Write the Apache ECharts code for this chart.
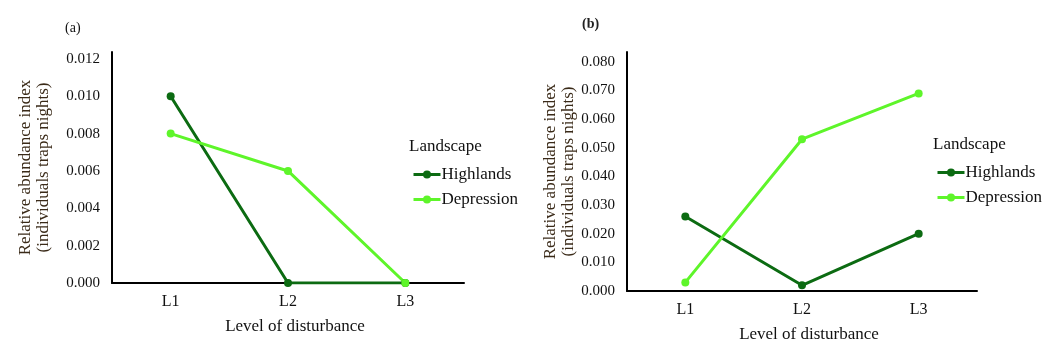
<!DOCTYPE html>
<html>
<head>
<meta charset="utf-8">
<script src="https://cdn.jsdelivr.net/npm/echarts@6/dist/echarts.min.js"></script>
<style>
  html, body { margin: 0; padding: 0; background: #fff; }
  #main { width: 1063px; height: 348px; }
</style>
</head>
<body>
<div id="main"></div>
<script>
  // 数据
  const categories = ['L1', 'L2', 'L3'];
  const highlandsA = [0.010, 0.000, 0.000];
  const depressionA = [0.008, 0.006, 0.000];
  const highlandsB = [0.026, 0.002, 0.020];
  const depressionB = [0.003, 0.053, 0.069];

  const darkGreen = '#0c6b12';
  const lightGreen = '#5ef52a';
  const font = 'Liberation Serif';

  let myChart = echarts.init(document.getElementById('main'));

  function lineSeries(name, data, color, idx) {
    return {
      name: name,
      type: 'line',
      xAxisIndex: idx,
      yAxisIndex: idx,
      data: data,
      symbol: 'circle',
      symbolSize: 8,
      itemStyle: { color: color },
      lineStyle: { color: color, width: 3 },
      emphasis: { disabled: true }
    };
  }

  function xAxis(idx) {
    return {
      type: 'category',
      gridIndex: idx,
      data: categories,
      boundaryGap: true,
      axisLine: { lineStyle: { color: '#000', width: 2 } },
      axisTick: { show: false },
      axisLabel: { color: '#111', fontFamily: font, fontSize: 16, margin: 11 },
      name: 'Level of disturbance',
      nameLocation: 'middle',
      nameGap: 35,
      nameTextStyle: { color: '#111', fontFamily: font, fontSize: 17, padding: [0, 0, 0, 14] }
    };
  }

  function yAxis(idx, max, interval, gap) {
    return {
      type: 'value',
      gridIndex: idx,
      min: 0,
      max: max,
      interval: interval,
      axisLine: { show: true, lineStyle: { color: '#000', width: 2 } },
      axisTick: { show: false },
      splitLine: { show: false },
      axisLabel: {
        color: '#111', fontFamily: font, fontSize: 15, margin: 12,
        showMaxLabel: false,
        formatter: function (v) { return v.toFixed(3); }
      },
      name: 'Relative abundance index\n(individuals traps nights)',
      nameLocation: 'middle',
      nameRotate: 90,
      nameGap: gap,
      nameTextStyle: { color: '#3a2a18', fontFamily: font, fontSize: 17, lineHeight: 18 }
    };
  }

  function legend(left, top) {
    return {
      orient: 'vertical',
      left: left,
      top: top,
      padding: 0,
      itemWidth: 27,
      itemHeight: 10,
      itemGap: 8,
      selectedMode: false,
      data: ['Highlands', 'Depression'],
      lineStyle: { width: 3 },
      textStyle: { color: '#111', fontFamily: font, fontSize: 17, padding: [0, 0, 0, -4] }
    };
  }

  let option = {
    animation: false,
    grid: [
      { left: 112, top: 52, width: 352, height: 231 },
      { left: 627, top: 52, width: 350, height: 242 }
    ],
    xAxis: [xAxis(0), xAxis(1)],
    yAxis: [yAxis(0, 0.01237, 0.002, 59), yAxis(1, 0.08345, 0.01, 46)],
    legend: [legend(412, 166), legend(936, 164)],
    graphic: [
      { type: 'text', left: 65, top: 21, style: { text: '(a)', font: '14px ' + font, fill: '#111' } },
      { type: 'text', left: 582, top: 17, style: { text: '(b)', font: 'bold 14px ' + font, fill: '#222' } },
      { type: 'text', left: 409, top: 138, style: { text: 'Landscape', font: '17px ' + font, fill: '#111' } },
      { type: 'text', left: 933, top: 136, style: { text: 'Landscape', font: '17px ' + font, fill: '#111' } }
    ],
    series: [
      lineSeries('Highlands', highlandsA, darkGreen, 0),
      lineSeries('Depression', depressionA, lightGreen, 0),
      lineSeries('Highlands', highlandsB, darkGreen, 1),
      lineSeries('Depression', depressionB, lightGreen, 1)
    ]
  };

  // 绘制图表
  myChart.setOption(option);
</script>
</body>
</html>
